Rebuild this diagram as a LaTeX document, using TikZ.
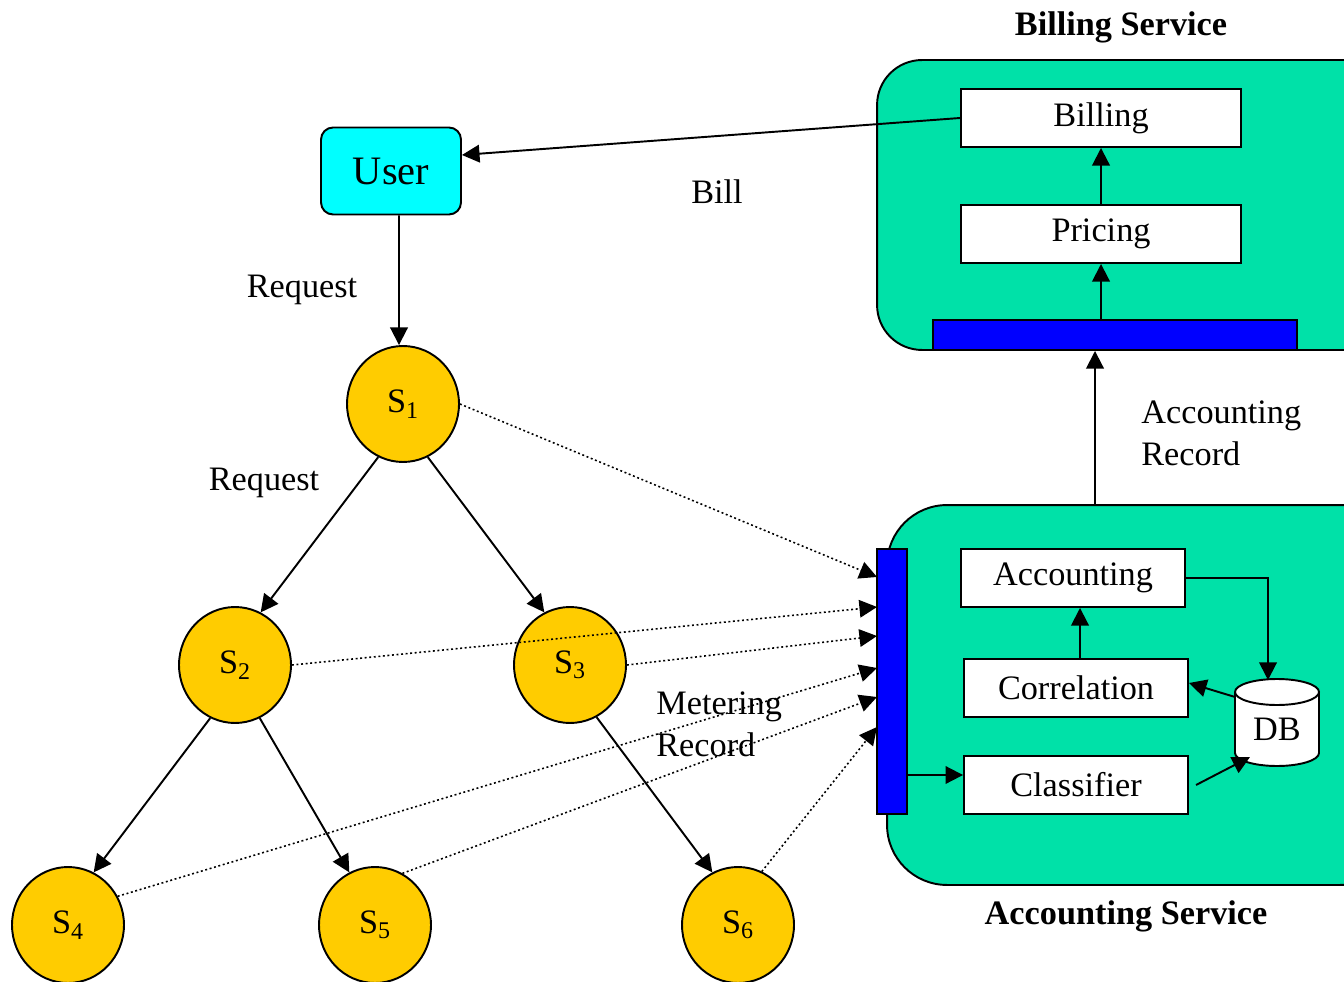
\documentclass[tikz,border=0pt]{standalone}
\usepackage{fontspec}
\setmainfont{Liberation Serif}
\usetikzlibrary{arrows.meta,calc,shapes.geometric}
\definecolor{tealbox}{HTML}{00E1A8}
\definecolor{userc}{HTML}{00FFFF}
\definecolor{srvc}{HTML}{FFCC00}
\definecolor{barc}{HTML}{0000FF}
\tikzset{
  txt/.style={font=\fontsize{19.5}{24}\selectfont, inner sep=0pt},
  btxt/.style={font=\fontsize{19.5}{24}\selectfont\bfseries, inner sep=0pt},
  service/.style={draw, line width=1.1pt, fill=tealbox, inner sep=0pt},
  bar/.style={draw, line width=1.1pt, fill=barc, inner sep=0pt},
  module/.style={draw, line width=1.1pt, fill=white, inner sep=0pt, minimum height=1.16cm, font=\fontsize{19.5}{24}\selectfont},
  srv/.style={draw, line width=1.1pt, fill=srvc, ellipse, inner sep=0pt, minimum width=2.24cm, minimum height=2.32cm, font=\fontsize{19.5}{24}\selectfont},
  arr/.style={-{Triangle[length=10pt,width=10pt]}, line width=1.1pt},
  dotarr/.style={-{Triangle[length=10pt,width=10pt]}, line width=0.9pt, dash pattern=on 1.1pt off 1.5pt},
}
\begin{document}
\begin{tikzpicture}[x=0.02cm,y=-0.02cm]
\useasboundingbox (0,0) rectangle (1344,982);
\clip (0,0) rectangle (1344,982);

% big service boxes
\node[service, rounded corners=0.9cm, minimum width=10.46cm, minimum height=5.8cm] (bsvc) at (1138.5,205) {};
\node[service, rounded corners=1.2cm, minimum width=10.26cm, minimum height=7.6cm] (asvc) at (1143.5,695) {};

% bars
\node[bar, minimum width=7.28cm, minimum height=0.6cm] (bbar) at (1115,335) {};
\node[bar, minimum width=0.6cm, minimum height=5.3cm] (vbar) at (892,681.5) {};

% modules
\node[module, minimum width=5.6cm] (billing) at (1101,118) {Billing};
\node[module, minimum width=5.6cm] (pricing) at (1101,234) {Pricing};
\node[module, minimum width=4.48cm] (accounting) at (1073,578) {Accounting};
\node[module, minimum width=4.48cm] (correlation) at (1076,688) {Correlation};
\node[module, minimum width=4.48cm] (classifier) at (1076,785) {Classifier};

% DB cylinder
\draw[line width=1.1pt, fill=white] (1235,692) -- (1235,753) arc[start angle=180, end angle=360, x radius=42, y radius=-13] -- (1319,692);
\draw[line width=1.1pt, fill=white] (1277,692) ellipse[x radius=42, y radius=13];
\node[txt, minimum width=1.68cm, minimum height=1.74cm] (db) at (1277,722) {};
\node[txt] at (1277,729) {DB};

% user
\node[draw, line width=1.1pt, fill=userc, rounded corners=0.24cm, minimum width=2.8cm, minimum height=1.74cm, inner sep=0pt, font=\fontsize{23}{27}\selectfont] (user) at (391,171) {User};

% servers
\node[srv] (s1) at (403,404) {S\textsubscript{1}};
\node[srv] (s2) at (235,665) {S\textsubscript{2}};
\node[srv] (s3) at (570,665) {S\textsubscript{3}};
\node[srv] (s4) at (68,925) {S\textsubscript{4}};
\node[srv] (s5) at (375,925) {S\textsubscript{5}};
\node[srv] (s6) at (738,925) {S\textsubscript{6}};

% labels
\node[btxt] (lbs) at (1121,27) {Billing Service};
\node[btxt] (las) at (1126,916) {Accounting Service};
\node[txt] (lbill) at (717,192) {Bill};
\node[txt] (lreq1) at (302,290) {Request};
\node[txt] (lreq2) at (264,483) {Request};
\node[txt, anchor=west, align=left] (lar) at (1141,433) {Accounting\\Record};
\node[txt, anchor=west, align=left] (lmr) at (656,724) {Metering\\Record};

% coordinates on the vertical bar
\coordinate (m1) at (877,577);
\coordinate (m2) at (877,607);
\coordinate (m3) at (877,636);
\coordinate (m4) at (877,668);
\coordinate (m5) at (877,697);
\coordinate (m6) at (877,727);
\coordinate (dbtop) at (1268,680);
\coordinate (dbleft) at (1235,697);
\coordinate (dbbot) at (1250,757);
\coordinate (clsout) at (1196,785);

% billing service arrows
\draw[arr] (bbar.north -| pricing.south) -- (pricing.south);
\draw[arr] (pricing.north) -- (billing.south);
\draw[arr] (billing.west) -- ([yshift=0.32cm]user.east);
\draw[arr] (asvc.north -| 1095,0) -- (bbar.south -| 1095,0);

% accounting service arrows
\draw[arr] (accounting.east) -| (dbtop);
\draw[arr] (correlation.north -| 1080,0) -- (accounting.south -| 1080,0);
\draw[arr] (dbleft) -- ([yshift=0.1cm]correlation.east);
\draw[arr] (clsout) -- (dbbot);
\draw[arr] (vbar.east |- 0,775) -- ([yshift=0.2cm]classifier.west);

% request tree
\draw[arr] ([xshift=0.16cm]user.south) -- ([xshift=-0.08cm]s1.north);
\draw[arr] (s1.245) -- (s2.64);
\draw[arr] (s1.295) -- (s3.116);
\draw[arr] (s2.245) -- (s4.64);
\draw[arr] (s2.295) -- (s5.116);
\draw[arr] (s3.297) -- (s6.116);

% metering records
\draw[dotarr] (s1.east) -- (m1);
\draw[dotarr] (s2.east) -- (m2);
\draw[dotarr] (s3.east) -- (m3);
\draw[dotarr] (s4.30) -- (m4);
\draw[dotarr] (s5.62) -- (m5);
\draw[dotarr] (s6.66) -- (m6);
\end{tikzpicture}
\end{document}
